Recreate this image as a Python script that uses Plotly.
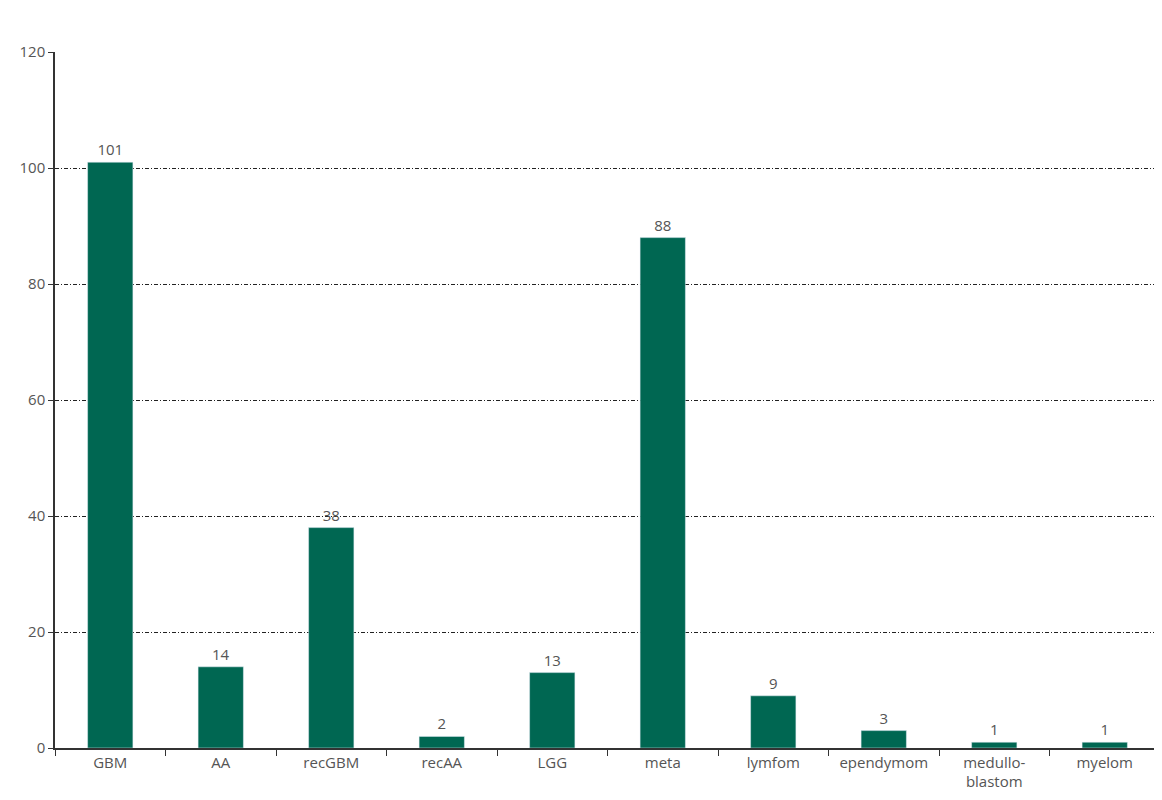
import plotly.graph_objects as go

categories = ["GBM", "AA", "recGBM", "recAA", "LGG", "meta", "lymfom", "ependymom",
              "medullo-<br>blastom", "myelom"]
counts = [101, 14, 38, 2, 13, 88, 9, 3, 1, 1]

fig = go.Figure(go.Bar(
    x=categories, y=counts,
    marker_color="#006752",
    width=0.41,
    text=counts, textposition="outside",
    textfont=dict(size=15, color="#555"),
    cliponaxis=False,
))

fig.update_layout(
    width=1162, height=800,
    plot_bgcolor="white", paper_bgcolor="white",
    margin=dict(l=47, r=10, t=44, b=60),
    font=dict(family="Open Sans", size=15, color="#555"),
    showlegend=False,
    bargap=0.59,
)
fig.update_xaxes(
    showline=True, linecolor="#333", linewidth=1.5,
    ticks="outside", tickson="boundaries", ticklen=6, tickcolor="#333",
    showgrid=False,
)
fig.update_yaxes(
    range=[0, 120], dtick=20,
    showline=True, linecolor="#333", linewidth=1.5,
    ticks="outside", ticklen=5, tickcolor="#333",
    showgrid=True, gridcolor="#222", gridwidth=1, griddash="4px,2px,1px,2px",
    zeroline=False,
)

fig.write_html("out.html")
